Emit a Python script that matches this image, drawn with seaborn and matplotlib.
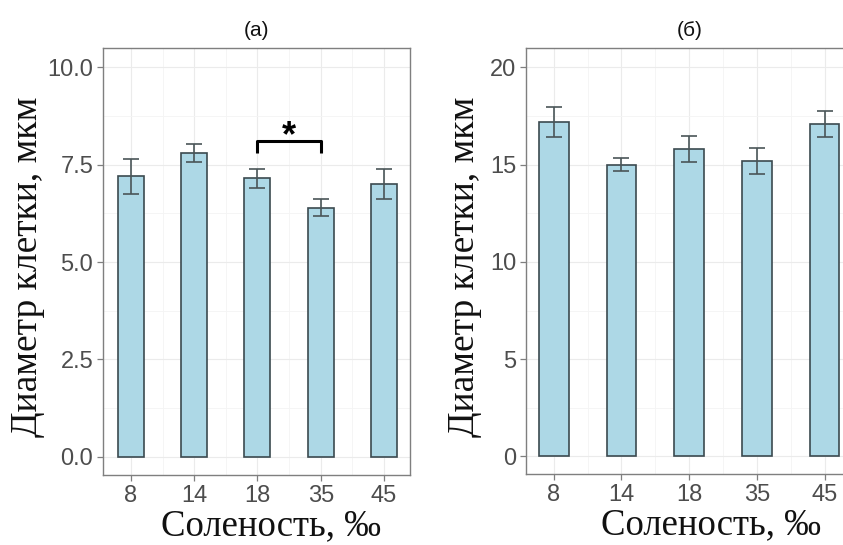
import matplotlib
matplotlib.use("Agg")
import matplotlib.pyplot as plt
import seaborn as sns
import pandas as pd
import numpy as np
from matplotlib.ticker import MultipleLocator

# ---- data ----
salinity = ["8", "14", "18", "35", "45"]
diam_a = [7.2, 7.8, 7.15, 6.4, 7.0]
err_a = [0.44, 0.23, 0.25, 0.21, 0.38]
diam_b = [17.2, 15.0, 15.8, 15.2, 17.1]
err_b = [0.77, 0.33, 0.66, 0.68, 0.65]
titles = ["(a)", "(б)"]
ylabel = "Диаметр клетки, мкм"
xlabel = "Соленость, ‰"
yticks_a = [0.0, 2.5, 5.0, 7.5, 10.0]
yticks_b = [0, 5, 10, 15, 20]
sig_pair = ("18", "35")
sig_label = "*"

sns.set_theme(style="white")
plt.rcParams['font.family'] = ['Liberation Sans', 'DejaVu Sans']

fig = plt.figure(figsize=(8.43, 5.45), dpi=100)
W, H = 843, 545
def add_ax(x0, y0, x1, y1):
    return fig.add_axes([x0 / W, 1 - y1 / H, (x1 - x0) / W, (y1 - y0) / H])

ax1 = add_ax(103, 48, 410, 475)
ax2 = add_ax(526, 48, 853, 474)

fill = "#ADD8E6"
edge = "#3B4A4F"
ecol = "#4A5558"
tickcol = "#4D4D4D"
serif = ['Liberation Serif', 'DejaVu Serif']

def panel(ax, vals, errs, width, ylim, yticks, ymajor, xlim, title, fmt, cap,
          ylab_x, xlab_x):
    df = pd.DataFrame({"sal": salinity, "d": vals})
    sns.barplot(data=df, x="sal", y="d", order=salinity, color=fill,
                saturation=1, width=width, edgecolor=edge, linewidth=1.2,
                errorbar=None, ax=ax, zorder=3)
    pos = np.arange(len(salinity))
    ax.errorbar(pos, vals, yerr=errs, fmt="none", ecolor=ecol,
                elinewidth=1.2, capsize=cap, capthick=1.2, zorder=4)
    ax.set_ylim(*ylim)
    ax.set_xlim(*xlim)
    ax.set_yticks(yticks)
    ax.set_yticklabels([fmt(v) for v in yticks])
    ax.yaxis.set_minor_locator(MultipleLocator(ymajor / 2))
    ax.set_xticks(pos, minor=False)
    ax.set_xticks(pos[:-1] + 0.5, minor=True)
    ax.grid(True, which="major", color="#EBEBEB", linewidth=0.8, zorder=0)
    ax.grid(True, which="minor", color="#F4F4F4", linewidth=0.6, zorder=0)
    ax.set_axisbelow(True)
    for s in ax.spines.values():
        s.set_color("#7F7F7F")
        s.set_linewidth(1.0)
    ax.tick_params(axis="both", which="major", length=4, width=0.9,
                   color="#7F7F7F", labelcolor=tickcol, labelsize=17,
                   pad=3, left=True, bottom=True)
    ax.tick_params(axis="both", which="minor", length=0)
    ax.set_xlabel(xlabel, family=serif, fontsize=26.5, color="#111111")
    ax.set_ylabel(ylabel, family=serif, fontsize=27, color="#111111")
    ax.yaxis.set_label_coords(ylab_x, 0.487)
    ax.xaxis.set_label_coords(xlab_x, -0.141)
    ax.xaxis.label.set_va("baseline")
    ax.yaxis.label.set_va("center")
    ax.set_title(title, fontsize=15, color="#111111", pad=9)

panel(ax1, diam_a, err_a, 0.41, (-0.47, 10.5), yticks_a, 2.5, (-0.44, 4.41),
      titles[0], lambda v: f"{v:.1f}", 5.5, -0.244, 0.547)
panel(ax2, diam_b, err_b, 0.44, (-0.9, 21.0), yticks_b, 5, (-0.41, 4.42),
      titles[1], lambda v: f"{v:.0f}", 6, -0.187, 0.566)

# significance bracket
i0, i1 = salinity.index(sig_pair[0]), salinity.index(sig_pair[1])
yb, yl = 8.12, 7.8
ax1.plot([i0, i0, i1, i1], [yl, yb, yb, yl], color="black", lw=2.2,
         solid_capstyle="butt", zorder=5)
ax1.text((i0 + i1) / 2, 8.22, sig_label, ha="center", va="center",
         fontsize=26, fontweight="bold", color="black", zorder=5)

fig.savefig("out.png", dpi=100)
